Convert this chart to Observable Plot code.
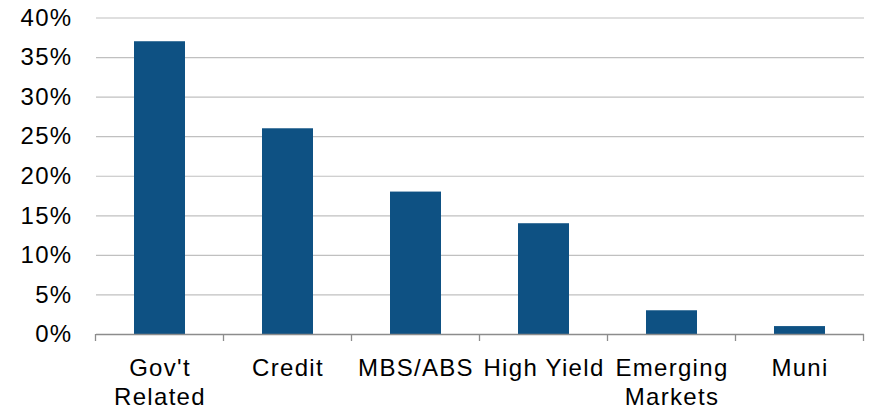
<!DOCTYPE html>
<html><head><meta charset="utf-8">
<script src="https://cdn.jsdelivr.net/npm/d3@7"></script>
<script src="https://cdn.jsdelivr.net/npm/@observablehq/plot@0.6"></script>
<style>body{margin:0;background:#fff} svg{display:block}</style>
</head><body><div id="chart"></div>
<script>
const categories = ["Gov't Related", "Credit", "MBS/ABS", "High Yield", "Emerging Markets", "Muni"];
const categoryLabels = ["Gov't\nRelated", "Credit", "MBS/ABS", "High Yield", "Emerging\nMarkets", "Muni"];
const values = [37, 26, 18, 14, 3, 1];
const yTicks = [0, 5, 10, 15, 20, 25, 30, 35, 40];
const yTickLabels = ["0%", "5%", "10%", "15%", "20%", "25%", "30%", "35%", "40%"];

const data = categories.map((c, i) => ({category: c, value: values[i]}));

function boundaryTicks(index, scales) {
  const sx = scales.x, sy = scales.y;
  const step = sx(categories[1]) - sx(categories[0]);
  const bw = typeof sx.bandwidth === "function" ? sx.bandwidth() : (sx.bandwidth ?? step * 0.4);
  const y0 = sy(0);
  const g = d3.create("svg:g").attr("stroke", "#8c8c8c").attr("stroke-width", 1.3);
  const xs = categories.map(c => sx(c) + bw / 2 - step / 2);
  xs.push(sx(categories[categories.length - 1]) + bw / 2 + step / 2);
  for (const x of xs) {
    g.append("line").attr("x1", x).attr("x2", x).attr("y1", y0).attr("y2", y0 + 7);
  }
  return g.node();
}

const chart = Plot.plot({
  width: 873,
  height: 412,
  marginTop: 17.5,
  marginBottom: 78,
  marginLeft: 96,
  marginRight: 9,
  style: {fontFamily: "'Liberation Sans', Arial, sans-serif", fontSize: "24px", color: "#000", background: "#fff", letterSpacing: "1.3px"},
  x: {domain: categories, paddingInner: 0.6, paddingOuter: 0.3},
  y: {domain: [0, 40]},
  marks: [
    Plot.ruleY(yTicks.filter(d => d > 0), {stroke: "#c0c0c0", strokeWidth: 1.2}),
    Plot.barY(data, {x: "category", y: "value", fill: "#0E5183"}),
    Plot.ruleY([0], {stroke: "#8c8c8c", strokeWidth: 1.3}),
    boundaryTicks,
    Plot.axisX({tickFormat: d => categoryLabels[categories.indexOf(d)], tickSize: 0, tickPadding: 22, lineHeight: 1.17, label: null}),
    Plot.axisY({ticks: yTicks, tickFormat: d => yTickLabels[yTicks.indexOf(d)], tickSize: 0, tickPadding: 24, label: null})
  ]
});
document.getElementById("chart").appendChild(chart);
</script>
</body></html>
